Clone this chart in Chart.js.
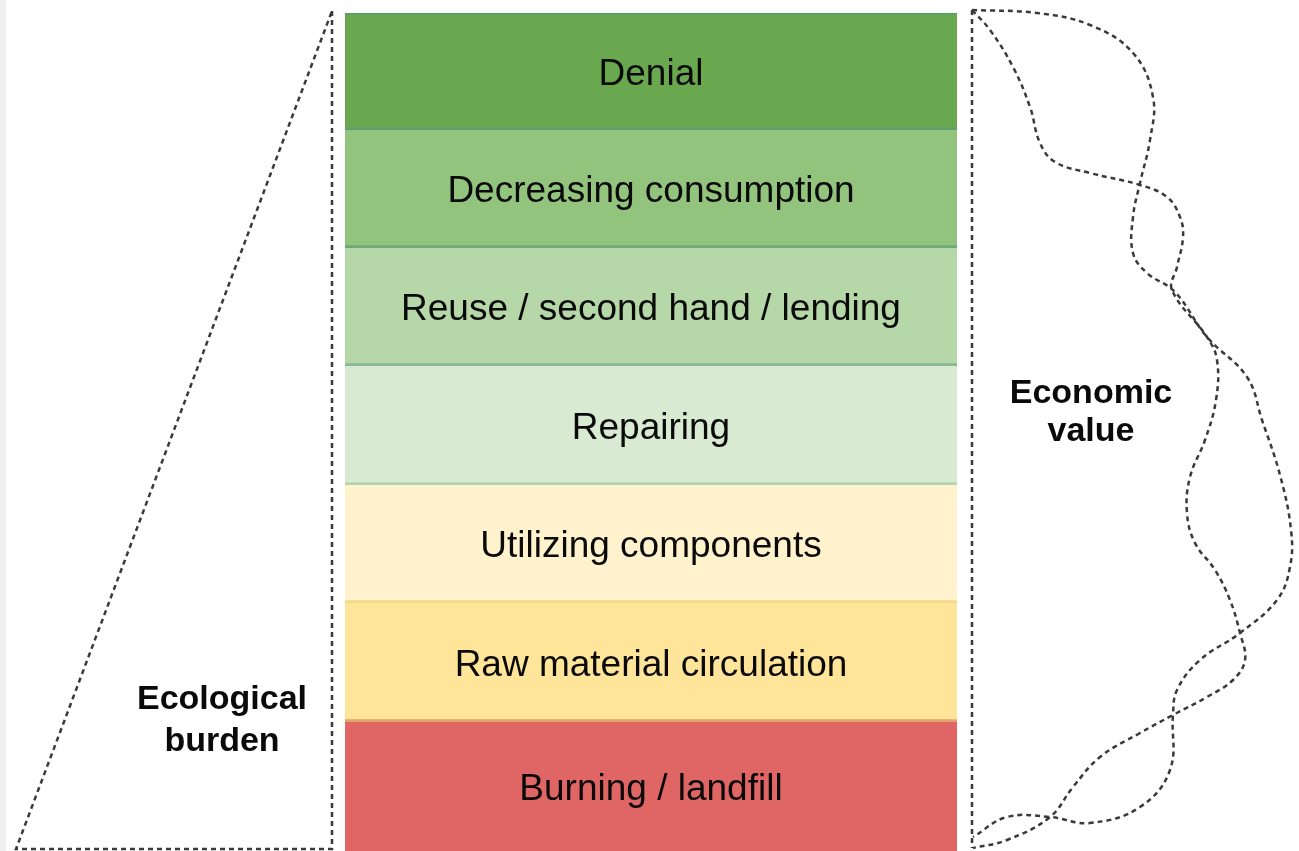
<!DOCTYPE html>
<html>
<head>
<meta charset="utf-8">
<title>Waste hierarchy</title>
<script src="https://cdn.jsdelivr.net/npm/chart.js@4/dist/chart.umd.min.js"></script>
<style>
    html, body { margin: 0; padding: 0; }
    body {
        width: 1299px;
        height: 851px;
        overflow: hidden;
        background: linear-gradient(to right, #f1f1f1 6px, #ffffff 6px);
    }
    #wrap { position: absolute; left: 0; top: 0; width: 1299px; height: 851px; }
</style>
</head>
<body>
<div id="wrap"><canvas id="chart"></canvas></div>
<script>
// levels of the hierarchy, top to bottom
const levels = [
    "Denial",
    "Decreasing consumption",
    "Reuse / second hand / lending",
    "Repairing",
    "Utilizing components",
    "Raw material circulation",
    "Burning / landfill",
];
// band extents in diagram units (y grows downwards)
const bandTop = [13, 130, 248, 366, 485, 603, 722];
const bandBottom = [130, 248, 366, 485, 603, 722, 860];
const bandCenterX = [651, 651, 651, 651, 651, 651, 651];
const bandColors = ["#6aa84f", "#93c47d", "#b6d7a8", "#d9ead3", "#fff2cc", "#ffe599", "#e06666"];
const bandEdges = ["#5f9f6c", "#6ea87b", "#86b994", "#b4d4ae", "#f3d98c", "#e2a36f", "#e06666"];

const sideLabels = [
    ["Ecological", "burden"],
    ["Economic", "value"],
];

// left wedge: "ecological burden" grows towards the bottom
const burdenX = [332, 332, 16, 332];
const burdenY = [11, 849, 849, 11];

// right side: vertical edge and the two braided "economic value" strands
const valueEdgeX = [972, 972];
const valueEdgeY = [10, 848];
const strandAX = [972, 1037, 1090, 1133, 1153, 1150, 1140, 1133, 1133, 1147, 1175, 1207, 1247, 1262, 1280, 1291, 1290, 1277, 1240, 1200, 1177, 1173, 1170, 1140, 1090, 1050, 1007, 973];
const strandAY = [10, 13, 25, 53, 97, 140, 183, 217, 253, 273, 292, 337, 377, 420, 475, 530, 567, 600, 633, 660, 690, 715, 770, 807, 823, 817, 817, 837];
const strandBX = [972, 990, 1013, 1030, 1040, 1055, 1090, 1140, 1167, 1180, 1183, 1177, 1172, 1207, 1217, 1216, 1205, 1190, 1187, 1195, 1215, 1230, 1240, 1245, 1233, 1207, 1173, 1140, 1100, 1073, 1050, 1007, 973];
const strandBY = [10, 30, 67, 107, 143, 162, 173, 185, 197, 217, 237, 267, 290, 337, 360, 400, 440, 477, 513, 543, 570, 600, 633, 660, 680, 697, 715, 733, 757, 787, 817, 840, 848];

const toPoints = (xs, ys) => xs.map((x, i) => ({ x, y: ys[i] }));

const dashed = (xs, ys, tension) => ({
    type: "line",
    data: toPoints(xs, ys),
    borderColor: "#3a3a3a",
    borderWidth: 2.5,
    borderDash: [5, 4],
    pointRadius: 0,
    fill: false,
    tension,
    order: 0,
});

const labelPlugin = {
    id: "bandLabels",
    afterDatasetsDraw(chart) {
        const ctx = chart.ctx;
        const meta = chart.getDatasetMeta(0);
        const xs = chart.scales.x;
        const ys = chart.scales.y;

        ctx.save();
        ctx.fillStyle = "#0a0a0a";
        ctx.textAlign = "center";
        ctx.textBaseline = "middle";
        ctx.font = "37px 'Liberation Sans', Arial, sans-serif";
        meta.data.forEach((bar, i) => {
            const mid = (bar.y + bar.base) / 2;
            ctx.fillText(levels[i], bar.x, i === levels.length - 1 ? mid - 1 : mid + 3);
        });

        ctx.font = "bold 34px 'Liberation Sans', Arial, sans-serif";
        const spots = [[222, 700, 742], [1091, 394, 432]];
        sideLabels.forEach((lines, i) => {
            const [cx, y1, y2] = spots[i];
            ctx.fillText(lines[0], xs.getPixelForValue(cx), ys.getPixelForValue(y1));
            ctx.fillText(lines[1], xs.getPixelForValue(cx), ys.getPixelForValue(y2));
        });
        ctx.restore();
    },
};

new Chart(document.getElementById("chart"), {
    data: {
        datasets: [
            {
                type: "bar",
                data: bandCenterX.map((x, i) => ({ x, y: [bandTop[i], bandBottom[i]] })),
                backgroundColor: bandColors,
                borderColor: bandEdges,
                borderSkipped: false,
                borderWidth: c => c.dataIndex === 0
                    ? { top: 2, right: 0, bottom: 3, left: 0 }
                    : { top: 0, right: 0, bottom: 3, left: 0 },
                barThickness: 612,
                order: 1,
            },
            dashed(burdenX, burdenY, 0),
            dashed(valueEdgeX, valueEdgeY, 0),
            dashed(strandAX, strandAY, 0.4),
            dashed(strandBX, strandBY, 0.4),
        ],
    },
    options: {
        responsive: true,
        maintainAspectRatio: false,
        animation: false,
        events: [],
        layout: { padding: 0 },
        plugins: { legend: { display: false }, tooltip: { enabled: false } },
        scales: {
            x: { type: "linear", min: 0, max: 1299, offset: false, display: false },
            y: { type: "linear", min: 0, max: 851, reverse: true, display: false },
        },
    },
    plugins: [labelPlugin],
});
</script>
</body>
</html>
